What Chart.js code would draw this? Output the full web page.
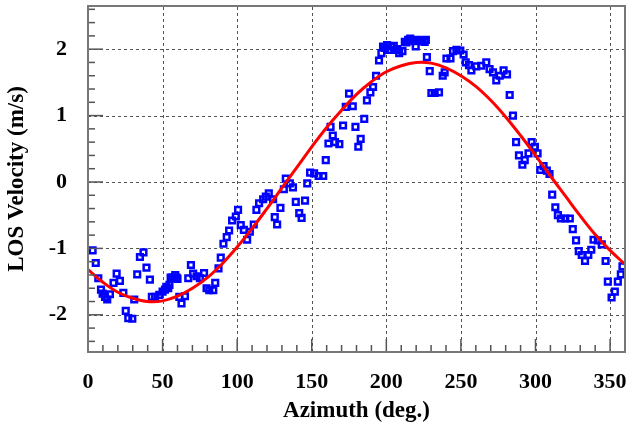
<!DOCTYPE html>
<html>
<head>
<meta charset="utf-8">
<script src="https://cdn.jsdelivr.net/npm/chart.js@4.4.1/dist/chart.umd.min.js"></script>
<style>
    html, body { margin: 0; padding: 0; background: #fff; }
    #wrap { width: 626px; height: 428px; }
</style>
</head>
<body>
<div id="wrap"><canvas id="chart"></canvas></div>
<script>
const azimuth = [
    3.1, 5.2, 6.9, 8.7, 9.8, 11.4, 12.9, 14.7, 17.1, 19.2, 21.4, 23.7, 25.3, 27, 29.7, 31, 33, 34.8, 37.2, 39.2,
    41.5, 42.8, 45, 47.8, 50, 51.6, 52.5, 53.8, 54.6, 55.4, 56.5, 57.8, 58.5, 59.4, 60, 61.2, 62.7, 65, 67.2, 69,
    70.5, 72.8, 75, 77.8, 79.5, 81.3, 84, 85.3, 87.5, 89, 90.8, 93, 94.6, 96.6, 99.1, 100.6, 102.4, 104.5, 106.7, 108.5,
    111.1, 112.9, 114.7, 117.4, 119.2, 121.2, 124.1, 125.2, 126.8, 129, 131.3, 132.6, 135.3, 137.4, 139.3, 141.6, 143.2, 145.5, 147, 148.9,
    151.6, 154.6, 157.7, 159.4, 161.2, 162.6, 164.1, 165.6, 168.5, 171, 172.8, 175, 177.5, 179.3, 181.2, 182.8, 185.2, 187, 189.3, 191.1,
    193.1, 195.1, 196.7, 197.8, 199, 200.5, 201.5, 203.4, 205, 206.3, 207.5, 208.6, 210.8, 212.4, 213.5, 214.6, 216, 217.5, 219, 219.7,
    221, 222.4, 224, 225.7, 226.5, 227.2, 229.1, 230.2, 232.4, 235.3, 237.8, 239.1, 240.3, 243, 244.7, 247, 249.6, 251.8, 253.2, 255.4,
    257, 260.3, 263.6, 267, 269.2, 271.5, 273.7, 276, 278.6, 280.9, 282.7, 284.9, 287, 288.9, 291.2, 292.8, 295.3, 297.4, 299.6, 301.4,
    303.2, 305.4, 307.6, 309.4, 311.2, 313.3, 315, 317, 320, 323, 325, 327.2, 329, 331, 333.2, 335.4, 337.4, 338.9, 341.8, 344.4,
    347, 348.5, 351, 353.2, 355.2, 357.2, 358.3
];
const velocity = [
    -1.03, -1.22, -1.45, -1.62, -1.68, -1.73, -1.77, -1.69, -1.52, -1.38, -1.49, -1.67, -1.94, -2.05, -2.06, -1.77, -1.39, -1.13, -1.06, -1.29,
    -1.47, -1.73, -1.73, -1.70, -1.65, -1.62, -1.58, -1.60, -1.55, -1.44, -1.44, -1.44, -1.40, -1.44, -1.46, -1.73, -1.83, -1.72, -1.45, -1.25,
    -1.38, -1.42, -1.45, -1.37, -1.60, -1.63, -1.63, -1.52, -1.30, -1.14, -0.93, -0.83, -0.73, -0.58, -0.52, -0.42, -0.65, -0.72, -0.87, -0.75,
    -0.64, -0.42, -0.32, -0.26, -0.22, -0.17, -0.26, -0.53, -0.64, -0.39, -0.11, 0.05, -0.02, -0.08, -0.30, -0.47, -0.54, -0.28, -0.02, 0.14,
    0.13, 0.09, 0.09, 0.33, 0.58, 0.83, 0.70, 0.60, 0.57, 0.85, 1.13, 1.33, 1.14, 0.83, 0.53, 0.65, 0.95, 1.23, 1.35, 1.43,
    1.60, 1.83, 1.94, 2.04, 2.02, 2.06, 1.99, 2.04, 2.05, 1.99, 2.00, 1.94, 1.97, 2.11, 2.10, 2.14, 2.16, 2.13, 2.12, 2.04,
    2.14, 2.13, 2.12, 2.11, 2.14, 1.88, 1.67, 1.34, 1.34, 1.35, 1.60, 1.65, 1.86, 1.86, 1.97, 1.99, 1.98, 1.92, 1.80, 1.76,
    1.68, 1.74, 1.75, 1.80, 1.70, 1.65, 1.53, 1.60, 1.68, 1.62, 1.31, 1.00, 0.60, 0.40, 0.26, 0.33, 0.43, 0.60, 0.53, 0.43,
    0.18, 0.24, 0.17, 0.12, -0.19, -0.38, -0.50, -0.55, -0.55, -0.55, -0.71, -0.88, -1.04, -1.10, -1.19, -1.10, -1.02, -0.87, -0.88, -0.94,
    -1.19, -1.50, -1.74, -1.65, -1.50, -1.39, -1.27
];

// Fitted curve (red), read every 10 degrees
const fitAzimuth = [0, 10, 20, 30, 40, 50, 60, 70, 80, 90, 100, 110, 120, 130, 140, 150, 160, 170, 180,
    190, 200, 210, 220, 230, 240, 250, 260, 270, 280, 290, 300, 310, 320, 330, 340, 350, 360];
const fitVelocity = [-1.32, -1.51, -1.66, -1.75, -1.80, -1.79, -1.72, -1.60, -1.44, -1.23, -0.98, -0.70, -0.40, -0.09, 0.22, 0.53, 0.82, 1.08, 1.32,
    1.51, 1.66, 1.75, 1.80, 1.79, 1.72, 1.60, 1.44, 1.23, 0.98, 0.70, 0.40, 0.09, -0.21, -0.51, -0.79, -1.03, -1.24];

const xTicks = [0, 50, 100, 150, 200, 250, 300, 350];
const yTicks = [-2, -1, 0, 1, 2];

const X_MIN = 0, X_MAX = 360, Y_MIN = -2.56, Y_MAX = 2.65;
const labelFont = { family: '"Liberation Serif", "Times New Roman", serif', size: 22, weight: 'bold' };
const titleFont = { family: '"Liberation Serif", "Times New Roman", serif', size: 23, weight: 'bold' };

// dashed grid, inner tick marks and frame
const frame = {
    id: 'frame',
    beforeDatasetsDraw(chart) {
        const { ctx, chartArea: a, scales: { x, y } } = chart;
        ctx.save();
        ctx.strokeStyle = '#555';
        ctx.lineWidth = 1;
        ctx.setLineDash([3, 3]);
        xTicks.forEach(v => {
            if (v === X_MIN) return;
            const px = Math.round(x.getPixelForValue(v)) + 0.5;
            ctx.beginPath(); ctx.moveTo(px, a.bottom); ctx.lineTo(px, a.top); ctx.stroke();
        });
        yTicks.forEach(v => {
            const py = Math.round(y.getPixelForValue(v)) + 0.5;
            ctx.beginPath(); ctx.moveTo(a.left, py); ctx.lineTo(a.right, py); ctx.stroke();
        });
        ctx.restore();
    },
    afterDatasetsDraw(chart) {
        const { ctx, chartArea: a, scales: { x, y } } = chart;
        ctx.save();
        ctx.strokeStyle = '#555';
        ctx.lineWidth = 1.5;
        for (let v = X_MIN; v <= X_MAX; v += 10) {
            const px = x.getPixelForValue(v);
            const len = v % 50 === 0 ? 13 : 7;
            ctx.beginPath(); ctx.moveTo(px, a.bottom); ctx.lineTo(px, a.bottom - len); ctx.stroke();
        }
        for (let i = -12; i <= 13; i++) {
            const py = y.getPixelForValue(i * 0.2);
            const len = i % 5 === 0 ? 15 : 7;
            ctx.beginPath(); ctx.moveTo(a.left, py); ctx.lineTo(a.left + len, py); ctx.stroke();
        }
        ctx.strokeStyle = '#777';
        ctx.lineWidth = 2;
        ctx.strokeRect(a.left, a.top, a.right - a.left, a.bottom - a.top);
        ctx.restore();
    }
};

new Chart(document.getElementById('chart'), {
    type: 'scatter',
    data: {
        datasets: [
            {
                type: 'line',
                label: 'fit',
                data: fitAzimuth.map((a, i) => ({ x: a, y: fitVelocity[i] })),
                borderColor: '#f00',
                borderWidth: 3,
                pointRadius: 0,
                tension: 0.4,
                fill: false,
                order: 0
            },
            {
                label: 'data',
                data: azimuth.map((a, i) => ({ x: a, y: velocity[i] })),
                pointStyle: 'rect',
                pointRadius: 4,
                borderColor: '#00f',
                backgroundColor: 'rgba(0,0,0,0)',
                borderWidth: 2.5,
                order: 1
            }
        ]
    },
    options: {
        responsive: true,
        maintainAspectRatio: false,
        animation: false,
        layout: { autoPadding: false, padding: { top: 6, right: 1, left: 0, bottom: 0 } },
        plugins: { legend: { display: false }, tooltip: { enabled: false } },
        scales: {
            x: {
                type: 'linear',
                min: X_MIN,
                max: X_MAX,
                afterBuildTicks: s => { s.ticks = xTicks.map(v => ({ value: v })); },
                afterFit: s => { s.height = 76; s.paddingLeft = 0; s.paddingRight = 0; },
                grid: { display: false },
                border: { display: false },
                ticks: { color: '#000', font: labelFont, padding: 9, maxRotation: 0, autoSkip: false },
                title: { display: true, text: 'Azimuth (deg.)', color: '#000', font: titleFont, padding: { top: 0, bottom: 3 } }
            },
            y: {
                type: 'linear',
                min: Y_MIN,
                max: Y_MAX,
                afterBuildTicks: s => { s.ticks = yTicks.map(v => ({ value: v })); },
                afterFit: s => { s.width = 88; s.paddingTop = 0; s.paddingBottom = 0; },
                grid: { display: false },
                border: { display: false },
                ticks: { color: '#000', font: labelFont, padding: 13, autoSkip: false },
                title: { display: true, text: 'LOS Velocity (m/s)', color: '#000', font: titleFont, padding: { top: 3, bottom: 0 } }
            }
        }
    },
    plugins: [frame]
});
</script>
</body>
</html>
